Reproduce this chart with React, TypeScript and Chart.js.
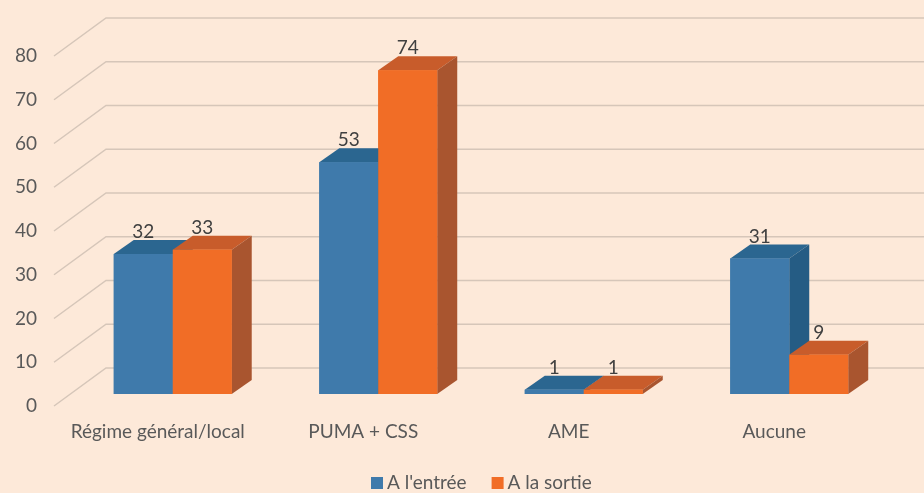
import React, { useEffect, useRef } from "react";
import { Chart, registerables } from "chart.js";

Chart.register(...registerables);

const categories = ["Régime général/local", "PUMA + CSS", "AME", "Aucune"];
const seriesNames = ["A l'entrée", "A la sortie"];
const entreeValues = [32, 53, 1, 31];
const sortieValues = [33, 74, 1, 9];
const tickValues = [0, 10, 20, 30, 40, 50, 60, 70, 80];

const BG = "#FDE9D9";
const FRONT = ["#3F7AAB", "#F16D26"];
const TOP = ["#2B6690", "#C85C2B"];
const SIDE = ["#255C84", "#A9552F"];
const GRID = "#D6C6B9";
const TICK_COLOR = "#595959";
const VALUE_COLOR = "#404040";
const FONT = "19px Lato";

// depth geometry
const BAR_DX = 20;
const BAR_DY = -14;
const FRONT_DX = -16;
const FRONT_DY = 12;
const BACK_DX = 36;
const BACK_DY = -26;

const threeD = {
  id: "threeD",
  beforeDraw(chart: any) {
    const { ctx, width, height } = chart;
    ctx.save();
    ctx.fillStyle = BG;
    ctx.fillRect(0, 0, width, height);
    ctx.restore();
  },
  beforeDatasetsDraw(chart: any) {
    const { ctx, chartArea, width } = chart;
    const y = chart.scales.y;
    ctx.save();
    ctx.strokeStyle = GRID;
    ctx.lineWidth = 1.5;
    ctx.font = FONT;
    ctx.fillStyle = TICK_COLOR;
    ctx.textAlign = "right";
    ctx.textBaseline = "middle";
    for (const v of tickValues) {
      const yb = y.getPixelForValue(v);
      const fx = chartArea.left + FRONT_DX;
      const fy = yb + FRONT_DY;
      const bx = chartArea.left + BACK_DX;
      const by = yb + BACK_DY;
      ctx.beginPath();
      ctx.moveTo(fx, fy);
      ctx.lineTo(bx, by);
      ctx.lineTo(width, by);
      ctx.stroke();
      ctx.fillText(String(v), fx - 17, fy);
    }
    ctx.restore();
  },
  afterDatasetsDraw(chart: any) {
    const { ctx } = chart;
    ctx.save();
    // 3D boxes, drawn back-to-front: series 0 then series 1
    chart.data.datasets.forEach((ds: any, i: number) => {
      const meta = chart.getDatasetMeta(i);
      for (const el of meta.data) {
        const p = el.getProps(["x", "y", "base", "width"], true);
        const l = p.x - p.width / 2;
        const r = p.x + p.width / 2;
        ctx.fillStyle = TOP[i];
        ctx.beginPath();
        ctx.moveTo(l, p.y);
        ctx.lineTo(r, p.y);
        ctx.lineTo(r + BAR_DX, p.y + BAR_DY);
        ctx.lineTo(l + BAR_DX, p.y + BAR_DY);
        ctx.closePath();
        ctx.fill();
        ctx.fillStyle = SIDE[i];
        ctx.beginPath();
        ctx.moveTo(r, p.y);
        ctx.lineTo(r + BAR_DX, p.y + BAR_DY);
        ctx.lineTo(r + BAR_DX, p.base + BAR_DY);
        ctx.lineTo(r, p.base);
        ctx.closePath();
        ctx.fill();
        ctx.fillStyle = FRONT[i];
        ctx.fillRect(l, p.y, r - l, p.base - p.y);
      }
    });
    ctx.font = FONT;
    ctx.fillStyle = VALUE_COLOR;
    ctx.textAlign = "center";
    ctx.textBaseline = "middle";
    chart.data.datasets.forEach((ds: any, di: number) => {
      const meta = chart.getDatasetMeta(di);
      meta.data.forEach((el: any, j: number) => {
        const p = el.getProps(["x", "y"], true);
        ctx.fillText(String(ds.data[j]), p.x, p.y - 22);
      });
    });
    // category labels
    const xs = chart.scales.x;
    ctx.fillStyle = TICK_COLOR;
    chart.data.labels.forEach((lab: string, j: number) => {
      ctx.fillText(lab, xs.getPixelForValue(j) + FRONT_DX + 1, 432);
    });
    // legend
    let lx = 371;
    const ly = 483;
    ctx.textAlign = "left";
    chart.data.datasets.forEach((ds: any, di: number) => {
      ctx.fillStyle = FRONT[di];
      ctx.fillRect(lx, ly - 6, 12, 12);
      ctx.fillStyle = TICK_COLOR;
      ctx.fillText(ds.label, lx + 16, ly);
      lx += 16 + ctx.measureText(ds.label).width + 25;
    });
    ctx.restore();
  },
};

export default function App() {
  const ref = useRef<HTMLCanvasElement>(null);
  useEffect(() => {
    if (!ref.current) return;
    const chart = new Chart(ref.current, {
      type: "bar",
      data: {
        labels: categories,
        datasets: [
          { label: seriesNames[0], data: entreeValues, backgroundColor: FRONT[0] },
          { label: seriesNames[1], data: sortieValues, backgroundColor: FRONT[1] },
        ],
      },
      options: {
        animation: false,
        responsive: false,
        maintainAspectRatio: false,
        layout: { padding: { left: 70, right: 32, top: 44, bottom: 99 } },
        datasets: { bar: { categoryPercentage: 0.574, barPercentage: 1 } },
        plugins: { legend: { display: false }, tooltip: { enabled: false } },
        scales: {
          x: { display: false, offset: true, grid: { display: false } },
          y: { display: false, min: 0, max: 80 },
        },
      },
      plugins: [threeD],
    });
    return () => chart.destroy();
  }, []);
  return (
    <div style={{ position: "fixed", left: 0, top: 0, width: 924, height: 493, background: BG }}>
      <canvas ref={ref} width={924} height={493} style={{ display: "block" }} />
    </div>
  );
}
